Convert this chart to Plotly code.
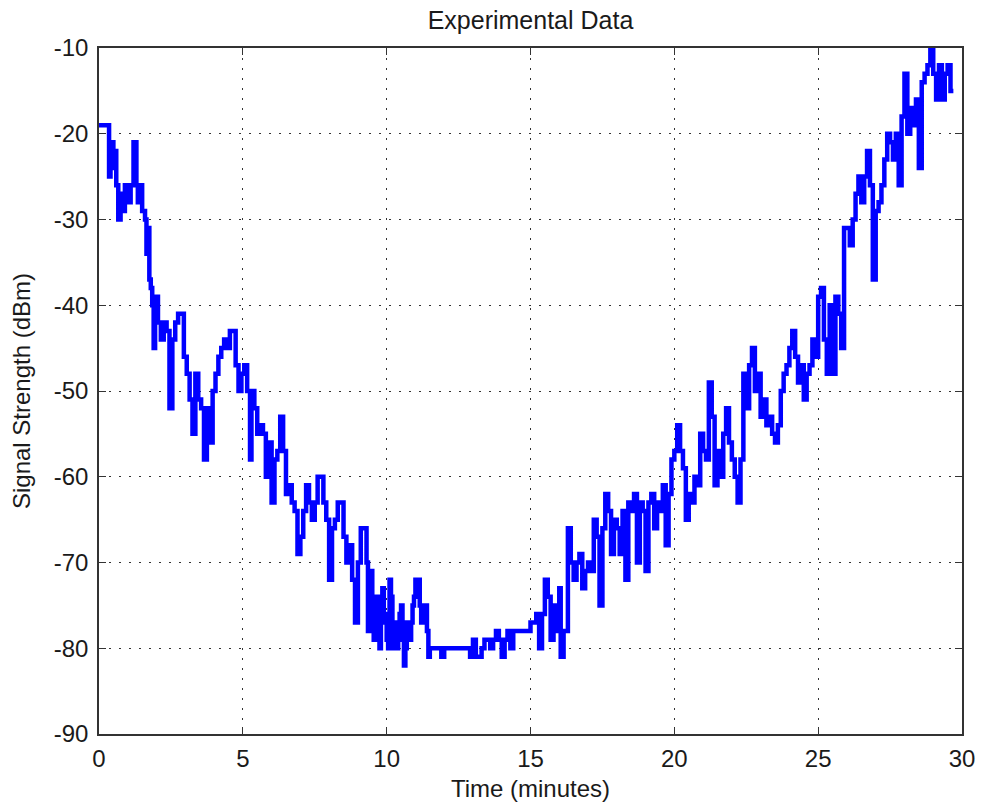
import plotly.graph_objects as go

# ---- data ----
time_min = [
    0.0, 0.3, 0.35, 0.4, 0.5, 0.55, 0.6, 0.67, 0.75, 0.85, 0.9, 1.0, 1.1, 1.2, 1.3, 1.35, 1.45, 1.5, 1.6, 1.65,
    1.7, 1.75, 1.8, 1.85, 1.9, 1.95, 2.05, 2.15, 2.25, 2.35, 2.45, 2.55, 2.65, 2.75, 2.85, 2.95, 3.05, 3.15, 3.25, 3.35,
    3.45, 3.55, 3.65, 3.75, 3.85, 3.95, 4.05, 4.15, 4.25, 4.35, 4.45, 4.55, 4.65, 4.75, 4.85, 4.95, 5.05, 5.15, 5.25, 5.3,
    5.4, 5.5, 5.6, 5.7, 5.8, 5.9, 6.0, 6.1, 6.2, 6.3, 6.4, 6.5, 6.6, 6.7, 6.8, 6.9, 7.0, 7.1, 7.2, 7.3,
    7.4, 7.5, 7.6, 7.7, 7.8, 7.9, 8.0, 8.1, 8.2, 8.3, 8.4, 8.5, 8.6, 8.7, 8.8, 8.9, 9.0, 9.1, 9.2, 9.3,
    9.35, 9.40, 9.45, 9.50, 9.55, 9.60, 9.65, 9.70, 9.75, 9.80, 9.85, 9.90, 9.95, 10.00, 10.05, 10.10, 10.15, 10.20, 10.25, 10.30,
    10.35, 10.40, 10.45, 10.50, 10.55, 10.60, 10.65, 10.70, 10.75, 10.80, 10.85, 10.90, 10.95, 11.00, 11.05, 11.10, 11.15, 11.20, 11.25, 11.30,
    11.35, 11.40, 11.45, 11.50,
    11.6, 11.8, 11.9, 12.0, 12.2, 12.9, 13.0, 13.1, 13.3, 13.4, 13.6, 13.7, 13.8, 13.9, 14.0, 14.1,
    14.2, 14.3, 14.4, 14.6, 14.8, 15.0, 15.1, 15.2, 15.3, 15.4, 15.5, 15.6, 15.7, 15.8, 15.9, 16.0, 16.05, 16.15, 16.3, 16.4,
    16.5, 16.6, 16.7, 16.8, 16.9, 17.0, 17.1, 17.2, 17.3, 17.4, 17.5, 17.6, 17.7, 17.8, 17.9, 18.0, 18.1, 18.2, 18.3, 18.4,
    18.5, 18.6, 18.7, 18.8, 18.9, 19.0, 19.1, 19.2, 19.3, 19.4, 19.5, 19.6, 19.7, 19.8, 19.9, 20.0, 20.1, 20.2, 20.3, 20.4,
    20.5, 20.6, 20.7, 20.8, 20.9, 21.0, 21.1, 21.2, 21.3, 21.4, 21.5, 21.6, 21.7, 21.8, 21.9, 22.0, 22.1, 22.2, 22.3, 22.4,
    22.5, 22.6, 22.7, 22.8, 22.9, 23.0, 23.1, 23.2, 23.3, 23.4, 23.5, 23.6, 23.7, 23.8, 23.9, 24.0, 24.1, 24.2, 24.3, 24.4,
    24.5, 24.6, 24.7, 24.8, 24.9, 25.0, 25.1, 25.2, 25.3, 25.4, 25.5, 25.6, 25.7, 25.8, 25.9, 26.0, 26.1, 26.2, 26.3, 26.4,
    26.5, 26.6, 26.7, 26.8, 26.9, 27.0, 27.1, 27.2, 27.3, 27.4, 27.5, 27.6, 27.7, 27.8, 27.9, 28.0, 28.1, 28.2, 28.3, 28.4,
    28.5, 28.6, 28.7, 28.8, 28.9, 29.0, 29.1, 29.2, 29.3, 29.4, 29.5, 29.6, 29.7,
]

signal_dbm = [
    -19, -19, -25, -21, -24, -22, -26, -30, -27, -29, -26, -28, -26, -21, -26, -28, -26, -29, -30, -34,
    -31, -37, -38, -40, -45, -39, -42, -44, -42, -43, -52, -44, -42, -41, -41, -46, -48, -51, -55, -48,
    -51, -52, -58, -52, -56, -50, -48, -46, -45, -44, -45, -43, -43, -47, -50, -48, -47, -50, -58, -50,
    -52, -55, -54, -55, -60, -56, -63, -58, -57, -53, -57, -62, -61, -63, -64, -69, -67, -64, -61, -63,
    -65, -63, -60, -60, -63, -65, -72, -66, -65, -63, -63, -67, -70, -68, -72, -77, -70, -66, -66, -70,
    -78, -72, -71, -75, -79, -76, -74, -78, -80, -76, -73, -77, -76, -79, -80, -72, -74, -80, -78, -77,
    -80, -79, -76, -75, -79, -82, -80, -77, -78, -79, -77, -75, -74, -72, -73, -72, -75, -77, -75, -77,
    -75, -78, -81, -80,
    -80, -80, -81, -80, -80, -81, -79, -81, -80, -79, -80, -79, -78, -79, -81, -79,
    -78, -80, -78, -78, -78, -77, -77, -76, -80, -76, -72, -74, -79, -75, -78, -73, -81, -78, -66, -70,
    -72, -70, -69, -73, -71, -70, -71, -65, -67, -75, -66, -62, -64, -69, -65, -66, -69, -64, -72, -63,
    -64, -62, -70, -63, -64, -71, -63, -62, -66, -63, -64, -61, -68, -62, -58, -57, -54, -57, -59, -65,
    -62, -63, -60, -61, -55, -57, -58, -49, -53, -61, -57, -60, -55, -52, -56, -58, -60, -63, -58, -48,
    -52, -47, -45, -50, -48, -53, -51, -54, -53, -55, -56, -54, -50, -48, -47, -45, -43, -46, -49, -47,
    -51, -48, -47, -44, -46, -39, -38, -44, -48, -40, -48, -39, -41, -45, -31, -31, -33, -30, -27, -25,
    -28, -25, -22, -26, -37, -29, -28, -26, -23, -20, -21, -23, -20, -26, -18, -13, -20, -17, -19, -16,
    -24, -14, -13, -12, -10, -13, -16, -12, -16, -13, -12, -15, -15,
]

x_ticks = [0, 5, 10, 15, 20, 25, 30]
y_ticks = [-90, -80, -70, -60, -50, -40, -30, -20, -10]

FONT = "Liberation Sans, Arial, sans-serif"
TXT = "#1a1a1a"

fig = go.Figure()
fig.add_trace(go.Scatter(
    x=time_min, y=signal_dbm, mode="lines",
    line=dict(color="#0000FF", width=4.5, shape="hv"),
    showlegend=False,
))

axis_common = dict(
    showline=True, linecolor="#333", linewidth=1.5, mirror="ticks",
    ticks="inside", ticklen=7, tickcolor="#333", tickwidth=1,
    showgrid=True, gridcolor="#333", gridwidth=1, griddash="1.5px,8.5px",
    zeroline=False,
    tickfont=dict(family=FONT, size=24, color=TXT),
)

fig.update_layout(
    width=987, height=810,
    margin=dict(l=99, r=21, t=48, b=74),
    paper_bgcolor="white", plot_bgcolor="white",
    title=dict(text="Experimental Data", x=0.5, xref="paper", xanchor="center",
               y=0.975, yref="container", yanchor="middle",
               font=dict(family=FONT, size=25, color=TXT)),
    xaxis=dict(range=[0, 30], tickvals=x_ticks, ticktext=[str(v) for v in x_ticks],
               ticklabelstandoff=2,
               title=dict(text="Time (minutes)", font=dict(family=FONT, size=24, color=TXT), standoff=10),
               **axis_common),
    yaxis=dict(range=[-90, -10], tickvals=y_ticks, ticktext=[str(v) for v in y_ticks],
               ticklabelstandoff=4,
               title=dict(text="Signal Strength (dBm)", font=dict(family=FONT, size=24, color=TXT), standoff=16),
               **axis_common),
)

fig.write_html("out.html")
